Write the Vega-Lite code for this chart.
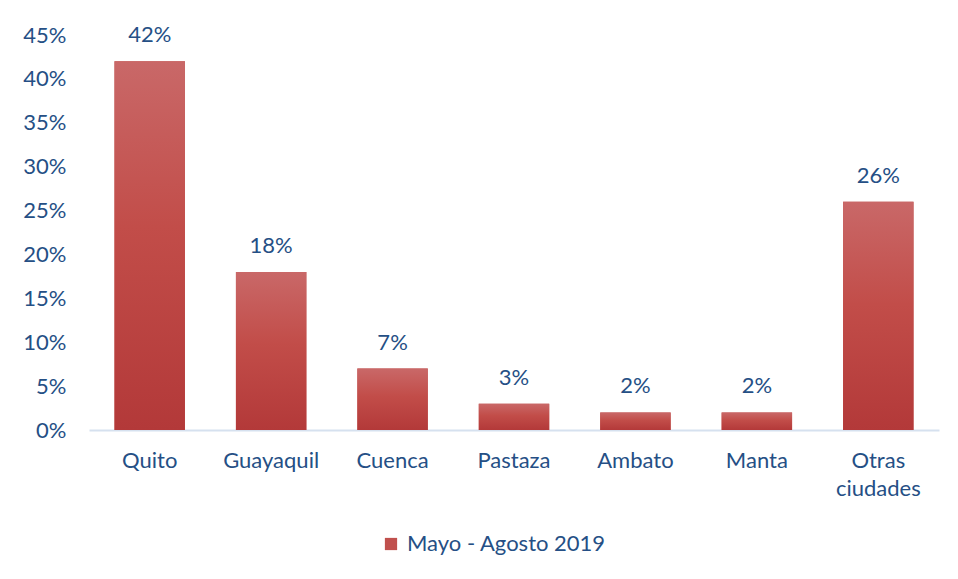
{
  "$schema": "https://vega.github.io/schema/vega-lite/v6.json",
  "autosize": {"type": "none"},
  "width": 850,
  "height": 395,
  "padding": {"left": 89, "top": 35, "right": 19, "bottom": 149},
  "background": "white",
  "config": {
    "view": {"stroke": null},
    "font": "Lato",
    "axis": {"labelFont": "Lato", "labelFontSize": 22, "labelColor": "#254F85", "grid": false, "ticks": false, "title": null},
    "legend": {"labelFont": "Lato", "labelFontSize": 22, "labelColor": "#254F85", "labelLimit": 400}
  },
  "data": {
    "values": [
      {"ciudad": "Quito", "valor": 0.42, "serie": "Mayo - Agosto 2019"},
      {"ciudad": "Guayaquil", "valor": 0.18, "serie": "Mayo - Agosto 2019"},
      {"ciudad": "Cuenca", "valor": 0.07, "serie": "Mayo - Agosto 2019"},
      {"ciudad": "Pastaza", "valor": 0.03, "serie": "Mayo - Agosto 2019"},
      {"ciudad": "Ambato", "valor": 0.02, "serie": "Mayo - Agosto 2019"},
      {"ciudad": "Manta", "valor": 0.02, "serie": "Mayo - Agosto 2019"},
      {"ciudad": "Otras ciudades", "valor": 0.26, "serie": "Mayo - Agosto 2019"}
    ]
  },
  "encoding": {
    "x": {
      "field": "ciudad", "type": "nominal", "sort": null,
      "scale": {"paddingInner": 0.42, "paddingOuter": 0.21},
      "axis": {
        "labelAngle": 0, "labelPadding": 20, "labelBaseline": "top",
        "domainColor": "#D6E1EF", "domainWidth": 2, "labelLineHeight": 28,
        "labelExpr": "datum.label == 'Otras ciudades' ? ['Otras', 'ciudades'] : datum.label"
      }
    },
    "y": {
      "field": "valor", "type": "quantitative",
      "scale": {"domain": [0, 0.45]},
      "axis": {"format": ".0%", "values": [0, 0.05, 0.1, 0.15, 0.2, 0.25, 0.3, 0.35, 0.4, 0.45], "domain": false, "labelPadding": 23}
    }
  },
  "layer": [
    {
      "mark": {"type": "bar"},
      "encoding": {
        "color": {
          "field": "serie", "type": "nominal",
          "scale": {"range": ["#C0504D"]},
          "legend": {"title": null, "orient": "none", "legendX": 291, "legendY": 498, "symbolType": "square", "symbolSize": 150, "symbolStrokeWidth": 0, "labelOffset": 5}
        }
      }
    },
    {
      "mark": {
        "type": "bar",
        "fill": {
          "gradient": "linear", "x1": 0, "y1": 0, "x2": 0, "y2": 1,
          "stops": [
            {"offset": 0, "color": "#C96868"},
            {"offset": 0.45, "color": "#C24D49"},
            {"offset": 1, "color": "#B33939"}
          ]
        }
      }
    },
    {
      "mark": {"type": "text", "baseline": "bottom", "dy": -14, "fontSize": 22, "font": "Lato", "color": "#254F85"},
      "encoding": {"text": {"field": "valor", "type": "quantitative", "format": ".0%"}}
    }
  ]
}
